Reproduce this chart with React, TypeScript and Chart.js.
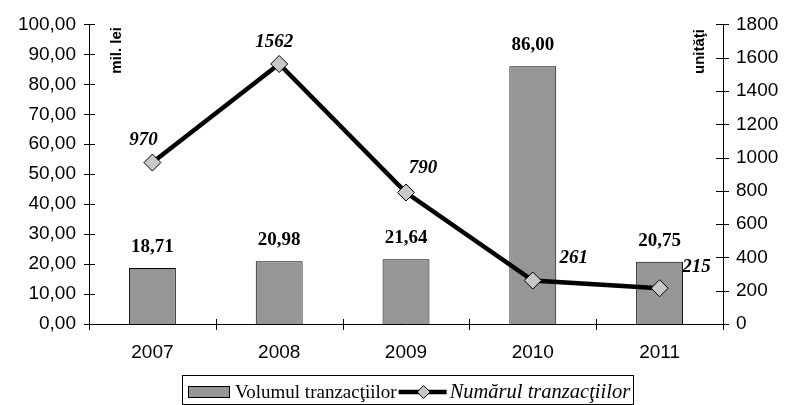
import React, { useEffect, useRef } from "react";
import { Chart, registerables } from "chart.js";

Chart.register(...registerables);

const years = ["2007", "2008", "2009", "2010", "2011"];
const volume = [18.71, 20.98, 21.64, 86.0, 20.75];
const count = [970, 1562, 790, 261, 215];
const volumeLabel = "Volumul tranzacţiilor";
const countLabel = "Numărul tranzacţiilor";
const leftTitle = "mil. lei";
const rightTitle = "unităţi";

// label offsets (style only)
const countLabelOffsets: [number, number][] = [
  [-9, -22],
  [-5, -22],
  [17, -24],
  [41, -22],
  [37, -21],
];

const fmtLeft = (v: number) => v.toFixed(2).replace(".", ",");
const fmtBar = (v: number) => v.toFixed(2).replace(".", ",");

const BAR_FILL = "#969696";
const DIAMOND_FILL = "#c8c8c8";

const overlay = {
  id: "overlay",
  afterDatasetsDraw(chart: any) {
    const ctx = chart.ctx as CanvasRenderingContext2D;
    const { chartArea } = chart;
    ctx.save();
    // tick marks
    ctx.strokeStyle = "#000";
    ctx.lineWidth = 1;
    const yL = chart.scales.y;
    const yR = chart.scales.y1;
    ctx.beginPath();
    yL.ticks.forEach((t: any) => {
      const py = Math.round(yL.getPixelForValue(t.value)) + 0.5;
      ctx.moveTo(chartArea.left - 5, py);
      ctx.lineTo(chartArea.left + 6, py);
    });
    yR.ticks.forEach((t: any) => {
      const py = Math.round(yR.getPixelForValue(t.value)) + 0.5;
      ctx.moveTo(chartArea.right - 7, py);
      ctx.lineTo(chartArea.right + 6, py);
    });
    const n = years.length;
    for (let i = 0; i <= n; i++) {
      const px =
        Math.round(chartArea.left + ((chartArea.right - chartArea.left) * i) / n) + 0.5;
      ctx.moveTo(px, chartArea.bottom - 5);
      ctx.lineTo(px, chartArea.bottom + 6);
    }
    ctx.stroke();

    // bar labels
    const barMeta = chart.getDatasetMeta(1);
    ctx.fillStyle = "#000";
    ctx.textAlign = "center";
    ctx.textBaseline = "middle";
    ctx.font = "bold 19px 'Liberation Serif', 'Times New Roman', serif";
    barMeta.data.forEach((el: any, i: number) => {
      ctx.fillText(fmtBar(volume[i]), el.x, el.y - 21);
    });

    // line labels
    const lineMeta = chart.getDatasetMeta(0);
    ctx.font = "italic bold 19px 'Liberation Serif', 'Times New Roman', serif";
    lineMeta.data.forEach((el: any, i: number) => {
      const [dx, dy] = countLabelOffsets[i];
      ctx.fillText(String(count[i]), el.x + dx, el.y + dy);
    });

    // axis titles
    ctx.font = "bold 15px 'Liberation Sans', Arial, sans-serif";
    ctx.textAlign = "right";
    ctx.save();
    ctx.translate(117, 27);
    ctx.rotate(-Math.PI / 2);
    ctx.fillText(leftTitle, 0, 0);
    ctx.restore();
    ctx.save();
    ctx.translate(700, 29);
    ctx.rotate(-Math.PI / 2);
    ctx.fillText(rightTitle, 0, 0);
    ctx.restore();

    // legend
    const lx = 182.5;
    const ly = 375.5;
    const cy = 392;
    ctx.textAlign = "left";
    let x = 188;
    ctx.fillStyle = BAR_FILL;
    ctx.fillRect(x, cy - 6, 42, 12);
    ctx.strokeStyle = "#000";
    ctx.lineWidth = 1;
    ctx.strokeRect(x + 0.5, cy - 5.5, 41, 11);
    x = 235;
    ctx.fillStyle = "#000";
    ctx.font = "19px 'Liberation Serif', 'Times New Roman', serif";
    ctx.fillText(volumeLabel, x, cy + 1);
    x += ctx.measureText(volumeLabel).width + 2;
    ctx.beginPath();
    ctx.lineWidth = 4.5;
    ctx.moveTo(x, cy);
    ctx.lineTo(x + 48, cy);
    ctx.stroke();
    const dxc = x + 25;
    ctx.beginPath();
    ctx.moveTo(dxc, cy - 6.5);
    ctx.lineTo(dxc + 6.5, cy);
    ctx.lineTo(dxc, cy + 6.5);
    ctx.lineTo(dxc - 6.5, cy);
    ctx.closePath();
    ctx.fillStyle = DIAMOND_FILL;
    ctx.fill();
    ctx.lineWidth = 1;
    ctx.stroke();
    x += 51;
    ctx.fillStyle = "#000";
    ctx.font = "italic 20.5px 'Liberation Serif', 'Times New Roman', serif";
    ctx.fillText(countLabel, x, cy + 1);
    x += ctx.measureText(countLabel).width + 3;
    ctx.strokeStyle = "#000";
    ctx.lineWidth = 1;
    ctx.strokeRect(lx, ly, Math.max(449, Math.round(x - lx)), 29);
    ctx.restore();
  },
};

export default function App() {
  const ref = useRef<HTMLCanvasElement | null>(null);
  useEffect(() => {
    if (!ref.current) return;
    const tickFont = { family: "'Liberation Sans', Arial, sans-serif", size: 19 };
    const chart = new Chart(ref.current, {
      type: "bar",
      data: {
        labels: years,
        datasets: [
          {
            type: "line",
            label: countLabel,
            data: count,
            yAxisID: "y1",
            borderColor: "#000",
            borderWidth: 4.5,
            pointStyle: "rectRot",
            pointRadius: 8.5,
            pointBackgroundColor: DIAMOND_FILL,
            pointBorderColor: "#000",
            pointBorderWidth: 1,
            tension: 0,
            order: 0,
          } as any,
          {
            type: "bar",
            label: volumeLabel,
            data: volume,
            yAxisID: "y",
            backgroundColor: BAR_FILL,
            borderColor: "#000",
            borderWidth: 1,
            barPercentage: 0.37,
            categoryPercentage: 1,
            order: 1,
          },
        ],
      },
      options: {
        responsive: false,
        devicePixelRatio: 1,
        animation: false,
        layout: { padding: { top: 24, left: 0, right: 0, bottom: 0 } },
        plugins: { legend: { display: false }, tooltip: { enabled: false } },
        scales: {
          x: {
            type: "category",
            offset: true,
            grid: { display: false, drawTicks: false },
            border: { display: true, color: "#000", width: 1 },
            ticks: { color: "#000", font: tickFont, padding: 17, maxRotation: 0 },
            afterFit: (s: any) => {
              s.height = 81;
            },
          },
          y: {
            position: "left",
            min: 0,
            max: 100,
            grid: { display: false, drawTicks: false },
            border: { display: true, color: "#000", width: 1 },
            ticks: {
              stepSize: 10,
              color: "#000",
              font: tickFont,
              padding: 13,
              callback: (v: any) => fmtLeft(Number(v)),
            },
            afterFit: (s: any) => {
              s.width = 89;
            },
          },
          y1: {
            position: "right",
            min: 0,
            max: 1800,
            grid: { display: false, drawTicks: false },
            border: { display: true, color: "#000", width: 1 },
            ticks: {
              stepSize: 200,
              color: "#000",
              font: tickFont,
              padding: 13,
              callback: (v: any) => String(v),
            },
            afterFit: (s: any) => {
              s.width = 78;
            },
          },
        },
      },
      plugins: [overlay],
    });
    return () => chart.destroy();
  }, []);
  return (
    <div style={{ position: "absolute", left: 0, top: 0, width: 801, height: 405, background: "#fff" }}>
      <canvas ref={ref} width={801} height={405} />
    </div>
  );
}
